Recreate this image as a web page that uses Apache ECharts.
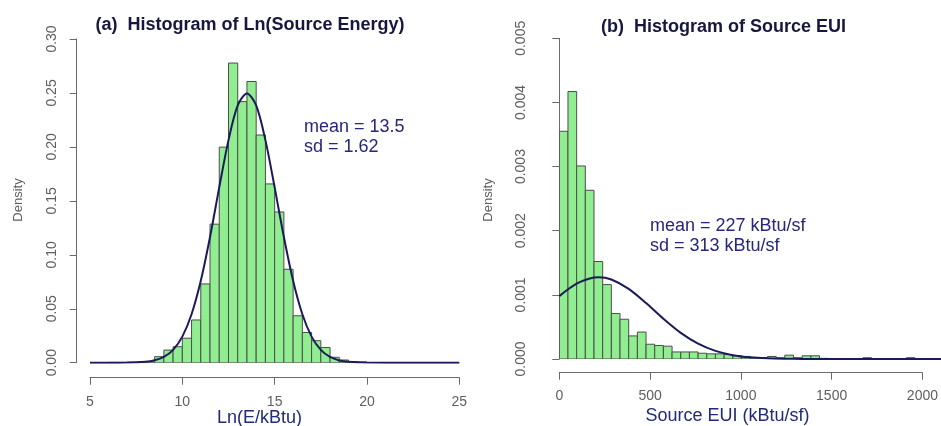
<!DOCTYPE html>
<html><head><meta charset="utf-8">
<script src="https://cdn.jsdelivr.net/npm/echarts@6/dist/echarts.min.js"></script>
<style>html,body{margin:0;padding:0;background:#fff}#c{width:941px;height:426px}</style>
</head><body><div id="c"></div>
<script>
// ---- Panel (a): Ln(Source Energy) ----
const aBinWidth = 0.5;
const aBinStarts = [6,6.5,7,7.5,8,8.5,9,9.5,10,10.5,11,11.5,12,12.5,13,13.5,14,14.5,15,15.5,16,16.5,17,17.5,18,18.5,19,19.5];
const aDensity   = [0.0003,0.0003,0.0003,0.0005,0.0008,0.0056,0.0117,0.0148,0.0227,0.0396,0.073,0.1284,0.1998,0.2777,0.242,0.2606,0.211,0.1657,0.1397,0.0866,0.0435,0.028,0.0204,0.0141,0.005,0.0025,0.001,0.0005];
const aCurveX = [5,6,7,8,8.5,9,9.5,10,10.5,11,11.5,12,12.5,13,13.5,14,14.5,15,15.5,16,16.5,17,17.5,18,18.5,19,20,22,25];
const aCurveY = [0,0.00001,0.00008,0.0008,0.0022,0.0053,0.0119,0.0242,0.0449,0.0759,0.1165,0.1625,0.2063,0.2385,0.2495,0.2385,0.2063,0.1625,0.1165,0.0759,0.0449,0.0242,0.0119,0.0053,0.0021,0.0008,0.00008,0,0];
const aXTicks = [5,10,15,20,25];
const aYTicks = [0,0.05,0.10,0.15,0.20,0.25,0.30];

// ---- Panel (b): Source EUI ----
const bBinWidth = 50;
const bBinStarts = [0,50,100,150,200,250,300,350,400,450,500,550,600,650,700,750,800,850,900,950,1000,1050,1100,1150,1200,1250,1300,1350,1400,1450,1500,1550,1600,1650,1700,1750,1800,1850,1900,1950,2000];
const bDensity   = [0.00355,0.00417,0.00301,0.00263,0.00152,0.00116,0.00071,0.00062,0.00036,0.00042,0.00023,0.00021,0.0002,0.00011,0.00011,0.00011,0.00009,0.00008,0.00008,0.00007,0.00005,0.00004,0.00002,0.00002,0.00004,0.00002,0.00006,0.00002,0.00005,0.00005,0.00001,0.000005,0.000005,0.000005,0.000005,0.00002,0.000005,0.000005,0.000005,0.000005,0.00002];
const bCurveX = [0,100,200,227,300,400,500,600,700,800,900,1000,1100,1200,1300,1400,1500,1700,2000,2200];
const bCurveY = [0.00098,0.001174,0.00127,0.001275,0.00124,0.001094,0.000872,0.000627,0.000407,0.000239,0.000126,0.00006,0.000026,0.00001,0.0000036,0.0000011,0.0000003,0,0,0];
const bXTicks = [0,500,1000,1500,2000];
const bYTicks = [0,0.001,0.002,0.003,0.004,0.005];

const FONT = 'Liberation Sans, Arial, sans-serif';
const NAVY = '#1b1b5c';
const GRAY = '#5e5e5e';

function hist(starts, w, vals){ return starts.map((s,i)=>[s, s+w, vals[i]]); }
function renderBin(params, api){
  const p0 = api.coord([api.value(0), api.value(2)]);
  const p1 = api.coord([api.value(1), 0]);
  return {type:'rect', shape:{x:p0[0], y:p0[1], width:p1[0]-p0[0], height:p1[1]-p0[1]},
          style:{fill:'#90ee90', stroke:'#4d4d4d', lineWidth:1}};
}
function xAx(grid, min, max, interval, offset, show, margin){
  return {type:'value', gridIndex:grid, min, max, interval, offset, show,
    splitLine:{show:false},
    axisLine:{show:true, onZero:false, lineStyle:{color:'#6a6a6a', width:1}},
    axisTick:{show:true, length:7, lineStyle:{color:'#6a6a6a'}},
    axisLabel:{color:GRAY, fontFamily:FONT, fontSize:14, margin:margin, formatter:v=>String(v),
      showMinLabel:true, showMaxLabel:true}};
}
function yAx(grid, min, max, interval, offset, show, digits){
  return {type:'value', gridIndex:grid, min, max, interval, offset, show,
    splitLine:{show:false},
    axisLine:{show:true, lineStyle:{color:'#6a6a6a', width:1}},
    axisTick:{show:true, length:7, lineStyle:{color:'#6a6a6a'}},
    axisLabel:{color:GRAY, fontFamily:FONT, fontSize:14, rotate:90, margin:18,
      align:'center', verticalAlign:'bottom', formatter:v=>v.toFixed(digits),
      showMinLabel:true, showMaxLabel:true}};
}

const chart = echarts.init(document.getElementById('c'), null, {renderer:'canvas'});
chart.setOption({
  animation:false,
  grid:[
    {left:90, top:39, width:369.3, height:323.7},
    {left:559.3, top:38.3, width:403.5, height:320.7},
    {left:559.3, top:38.3, width:367.4, height:320.7}
  ],
  xAxis:[ xAx(0,5,25,5,15,true,17), xAx(1,0,2200,500,0,false,10), xAx(2,0,2000,500,13.7,true,16) ],
  yAxis:[ yAx(0,0,0.30,0.05,13.3,true,2), yAx(1,0,0.005,0.001,0,false,3), yAx(2,0,0.005,0.001,13.3,true,3) ],
  series:[
    {type:'custom', xAxisIndex:0, yAxisIndex:0, renderItem:renderBin, encode:{x:[0,1], y:2},
     data:hist(aBinStarts,aBinWidth,aDensity), clip:true},
    {type:'line', xAxisIndex:0, yAxisIndex:0, smooth:0.3, showSymbol:false, symbol:'none',
     lineStyle:{color:NAVY, width:2}, data:aCurveX.map((x,i)=>[x,aCurveY[i]])},
    {type:'custom', xAxisIndex:1, yAxisIndex:1, renderItem:renderBin, encode:{x:[0,1], y:2},
     data:hist(bBinStarts,bBinWidth,bDensity), clip:true},
    {type:'line', xAxisIndex:1, yAxisIndex:1, smooth:0.3, showSymbol:false, symbol:'none',
     lineStyle:{color:NAVY, width:2}, data:bCurveX.map((x,i)=>[x,bCurveY[i]])}
  ],
  graphic:[
    {type:'text', x:250, y:25, style:{text:'(a)  Histogram of Ln(Source Energy)', font:'bold 18px '+FONT, fill:'#16163f', align:'center', verticalAlign:'middle'}},
    {type:'text', x:723.5, y:27.5, style:{text:'(b)  Histogram of Source EUI', font:'bold 18px '+FONT, fill:'#16163f', align:'center', verticalAlign:'middle'}},
    {type:'text', x:304, y:127, style:{text:'mean = 13.5', font:'18px '+FONT, fill:'#26267a', align:'left', verticalAlign:'middle'}},
    {type:'text', x:304, y:147, style:{text:'sd = 1.62', font:'18px '+FONT, fill:'#26267a', align:'left', verticalAlign:'middle'}},
    {type:'text', x:650, y:226, style:{text:'mean = 227 kBtu/sf', font:'18px '+FONT, fill:'#26267a', align:'left', verticalAlign:'middle'}},
    {type:'text', x:650, y:246, style:{text:'sd = 313 kBtu/sf', font:'18px '+FONT, fill:'#26267a', align:'left', verticalAlign:'middle'}},
    {type:'text', x:259.5, y:418, style:{text:'Ln(E/kBtu)', font:'18px '+FONT, fill:'#1f2a78', align:'center', verticalAlign:'middle'}},
    {type:'text', x:727.5, y:416.5, style:{text:'Source EUI (kBtu/sf)', font:'18px '+FONT, fill:'#1f2a78', align:'center', verticalAlign:'middle'}},
    {type:'text', x:18, y:200, rotation:Math.PI/2, style:{text:'Density', font:'13px '+FONT, fill:GRAY, align:'center', verticalAlign:'middle'}},
    {type:'text', x:488, y:200, rotation:Math.PI/2, style:{text:'Density', font:'13px '+FONT, fill:GRAY, align:'center', verticalAlign:'middle'}}
  ]
});
</script></body></html>
